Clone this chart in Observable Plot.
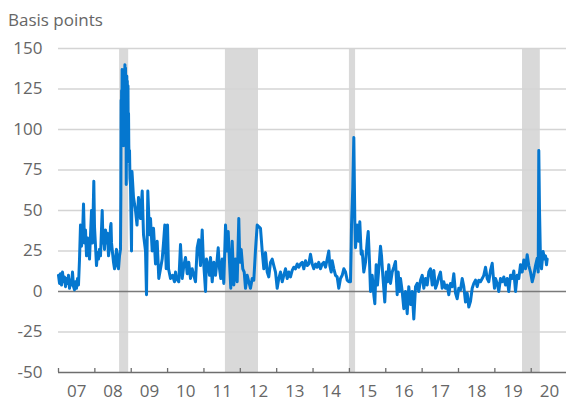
<!DOCTYPE html>
<html>
<head>
<meta charset="utf-8">
<script src="https://cdn.jsdelivr.net/npm/d3@7"></script>
<script src="https://cdn.jsdelivr.net/npm/@observablehq/plot@0.6"></script>
<style>
  html, body { margin: 0; padding: 0; background: #fff; }
  #chart { position: relative; width: 566px; height: 401px; }
</style>
</head>
<body>
<div id="chart"></div>
<script>
// Y-axis title
const yTitle = "Basis points";
// Y ticks
const yTicks = [-50, -25, 0, 25, 50, 75, 100, 125, 150];
// Year boundaries and labels
const yearTicks = [2007, 2008, 2009, 2010, 2011, 2012, 2013, 2014, 2015, 2016, 2017, 2018, 2019, 2020];
const yearLabels = ["07","08","09","10","11","12","13","14","15","16","17","18","19","20"];
// Shaded periods (decimal years)
const shadeStart = [2008.68, 2011.59, 2015.00, 2019.76];
const shadeEnd   = [2008.93, 2012.50, 2015.17, 2020.25];
// Series: [decimal year, basis points]
const series = [
[2007.000,10],[2007.028,5],[2007.055,11],[2007.083,4],[2007.110,12],[2007.138,6],[2007.165,9],[2007.193,3],[2007.220,8],[2007.248,5],[2007.275,10],[2007.303,2],[2007.330,7],[2007.358,4],[2007.385,12],[2007.413,3],[2007.440,1],[2007.468,6],[2007.495,2],[2007.523,8],[2007.550,4],[2007.578,20],[2007.605,41],[2007.633,28],[2007.660,35],[2007.688,54],[2007.715,30],[2007.743,38],[2007.770,22],[2007.798,33],[2007.825,28],[2007.853,20],[2007.880,35],[2007.908,50],[2007.935,30],[2007.971,68],[2007.990,40],
[2008.018,28],[2008.045,16],[2008.073,24],[2008.100,20],[2008.128,26],[2008.155,22],[2008.202,50],[2008.224,30],[2008.238,34],[2008.265,26],[2008.293,38],[2008.320,30],[2008.348,36],[2008.375,22],[2008.403,27],[2008.430,40],[2008.444,42],[2008.458,30],[2008.485,24],[2008.513,18],[2008.540,14],[2008.568,20],[2008.595,26],[2008.623,16],[2008.650,14],[2008.678,22],[2008.705,26],
[2008.715,60],[2008.722,118],[2008.728,96],[2008.735,124],[2008.742,100],[2008.750,137],[2008.757,112],[2008.765,135],[2008.772,92],[2008.780,120],[2008.788,90],[2008.796,128],[2008.803,105],[2008.810,137],[2008.818,115],[2008.826,140],[2008.834,120],[2008.843,138],[2008.850,110],[2008.856,125],[2008.863,66],[2008.870,100],[2008.878,133],[2008.885,110],[2008.892,130],[2008.900,100],[2008.911,127],[2008.918,95],[2008.926,110],[2008.933,91],[2008.942,80],[2008.953,87],[2008.965,70],[2008.980,66],
[2009.008,25],[2009.021,74],[2009.063,58],[2009.118,50],[2009.159,41],[2009.200,58],[2009.255,45],[2009.302,62],[2009.338,35],[2009.393,25],[2009.420,-2],[2009.456,62],[2009.503,35],[2009.530,45],[2009.577,25],[2009.613,39],[2009.668,17],[2009.714,31],[2009.758,8],[2009.805,14],[2009.852,20],[2009.888,30],[2009.923,41],[2009.962,14],[2009.998,41],
[2010.025,14],[2010.080,8],[2010.135,10],[2010.190,6],[2010.218,12],[2010.245,8],[2010.308,6],[2010.355,29],[2010.402,8],[2010.446,16],[2010.493,21],[2010.539,11],[2010.583,18],[2010.630,8],[2010.677,14],[2010.721,10],[2010.768,6],[2010.814,27],[2010.858,32],[2010.905,16],[2010.952,38],[2010.979,22],
[2011.015,10],[2011.043,0],[2011.070,20],[2011.117,16],[2011.153,10],[2011.180,21],[2011.227,6],[2011.271,18],[2011.318,10],[2011.364,20],[2011.392,27],[2011.428,14],[2011.463,8],[2011.502,20],[2011.546,5],[2011.593,41],[2011.628,25],[2011.667,37],[2011.703,18],[2011.738,2],[2011.777,31],[2011.821,4],[2011.868,20],[2011.914,6],[2011.958,45],[2011.986,18],
[2012.024,26],[2012.068,14],[2012.107,12],[2012.143,2],[2012.189,10],[2012.233,6],[2012.280,2],[2012.327,8],[2012.371,7],[2012.418,26],[2012.464,41],[2012.508,40],[2012.555,39],[2012.602,25],[2012.646,14],[2012.693,24],[2012.739,12],[2012.783,9],[2012.830,18],[2012.877,20],[2012.921,16],[2012.968,12],
[2013.014,2],[2013.058,8],[2013.105,12],[2013.152,6],[2013.196,10],[2013.243,14],[2013.289,8],[2013.333,12],[2013.380,9],[2013.427,13],[2013.471,15],[2013.518,14],[2013.564,17],[2013.608,15],[2013.655,17],[2013.702,18],[2013.746,14],[2013.793,19],[2013.839,16],[2013.883,17],[2013.930,23],[2013.977,17],
[2014.021,14],[2014.068,17],[2014.114,15],[2014.158,18],[2014.205,14],[2014.252,17],[2014.296,18],[2014.343,15],[2014.389,20],[2014.433,25],[2014.461,16],[2014.499,12],[2014.527,19],[2014.571,14],[2014.618,10],[2014.664,9],[2014.708,2],[2014.755,8],[2014.802,10],[2014.846,14],[2014.893,12],[2014.939,7],[2014.983,6],
[2015.030,6],[2015.049,28],[2015.058,41],[2015.093,64],[2015.121,95],[2015.149,43],[2015.168,27],[2015.214,41],[2015.258,31],[2015.286,43],[2015.324,23],[2015.352,25],[2015.396,12],[2015.443,18],[2015.489,31],[2015.517,37],[2015.553,18],[2015.580,0],[2015.627,10],[2015.671,-2],[2015.699,-7.5],[2015.736,16.5],[2015.772,4],[2015.808,14],[2015.855,28],[2015.883,22],[2015.918,10],[2015.973,-6.5],
[2016.011,12],[2016.048,6],[2016.083,16.5],[2016.130,5],[2016.177,12],[2016.221,15],[2016.268,18.5],[2016.314,-2],[2016.342,12],[2016.378,0],[2016.405,8],[2016.452,0],[2016.496,-10.6],[2016.543,0],[2016.589,-13.7],[2016.633,3],[2016.680,-8],[2016.727,0],[2016.771,-17],[2016.818,3],[2016.864,5],[2016.908,0],[2016.955,7],
[2017.002,10],[2017.046,2],[2017.093,8],[2017.139,4],[2017.183,12],[2017.230,14],[2017.277,4],[2017.321,13],[2017.368,2],[2017.414,5],[2017.458,9],[2017.505,12],[2017.552,2],[2017.596,6],[2017.643,2],[2017.689,4],[2017.733,-2],[2017.780,5],[2017.827,3],[2017.871,11],[2017.918,-1],[2017.964,-4.5],
[2018.008,2],[2018.055,1],[2018.102,8],[2018.146,3],[2018.193,-6.5],[2018.239,-1],[2018.283,-9.6],[2018.330,-6],[2018.377,2],[2018.421,5],[2018.468,7],[2018.514,3],[2018.558,7],[2018.605,6],[2018.652,8],[2018.696,10],[2018.743,15],[2018.789,8],[2018.833,6],[2018.880,13],[2018.927,17.4],[2018.954,10],[2018.990,2],
[2019.018,8],[2019.064,5],[2019.108,0],[2019.155,8],[2019.202,6],[2019.246,9],[2019.293,4],[2019.339,8],[2019.383,0],[2019.430,10],[2019.477,8],[2019.521,12.7],[2019.568,0],[2019.614,10],[2019.658,8],[2019.705,16.5],[2019.752,12],[2019.796,19.5],[2019.843,14],[2019.889,22.7],[2019.933,16],[2019.980,12],
[2020.027,6],[2020.071,10],[2020.118,16],[2020.164,20.5],[2020.192,12],[2020.208,87],[2020.228,50],[2020.255,18.5],[2020.283,14],[2020.327,24.7],[2020.365,20],[2020.393,22],[2020.420,16.5],[2020.439,20]
];

const shades = shadeStart.map((s, i) => ({start: s, end: shadeEnd[i]}));
const data = series.map(([t, v]) => ({t, v}));
const midYears = yearTicks.map(y => y + 0.5);

const plot = Plot.plot({
  width: 566,
  height: 401,
  marginLeft: 58,
  marginRight: 0,
  marginTop: 48,
  marginBottom: 29,
  x: {domain: [2007, 2020.97], label: null},
  y: {domain: [-50, 150], label: null},
  style: {fontFamily: "'Open Sans', sans-serif", fontSize: "17px", color: "#666", background: "#fff"},
  marks: [
    Plot.rect(shades, {x1: "start", x2: "end", fill: "#d9d9d9"}),
    Plot.ruleY(yTicks.filter(d => d > 0 || d === -25), {stroke: "#d4d4d4", strokeWidth: 1.5}),
    Plot.ruleY([0], {stroke: "#7a7a7a", strokeWidth: 1.3}),
    Plot.line(data, {x: "t", y: "v", stroke: "#0577cf", strokeWidth: 3, strokeLinejoin: "round"}),
    Plot.ruleY([-50], {stroke: "#6e6e6e", strokeWidth: 1.3}),
    Plot.ruleX(yearTicks, {stroke: "#6e6e6e", strokeWidth: 1.3, insetTop: 320}),
    Plot.axisY(yTicks, {tickSize: 0, tickPadding: 16, fill: "#666", label: null, tickFormat: d => String(d)}),
    Plot.axisX(midYears, {tickSize: 0, tickPadding: 12, tickFormat: (d, i) => yearLabels[i], fill: "#666", label: null})
  ]
});

d3.select(plot).append("text")
  .attr("x", 8).attr("y", 26)
  .attr("fill", "#666")
  .attr("text-anchor", "start")
  .style("font-family", "'Open Sans', sans-serif")
  .style("font-size", "17px")
  .text(yTitle);

document.getElementById("chart").appendChild(plot);
</script>
</body>
</html>
